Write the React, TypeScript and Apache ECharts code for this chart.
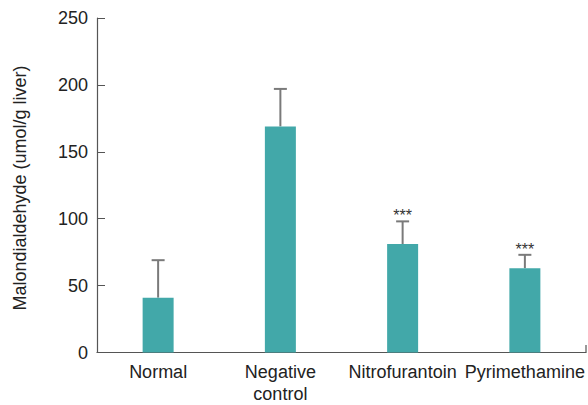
import React, { useEffect, useRef } from "react";
import * as echarts from "echarts";

const categories = ["Normal", "Negative\ncontrol", "Nitrofurantoin", "Pyrimethamine"];
const means = [41, 169, 81, 63];
const errorTops = [69, 197, 98, 73];
const significance = ["", "", "***", "***"];
const yTicks = { min: 0, max: 250, interval: 50 };

const FONT = "'Liberation Sans', Arial, Helvetica, sans-serif";
const AXIS_COLOR = "#555";

export default function App() {
  const ref = useRef<HTMLDivElement>(null);
  useEffect(() => {
    if (!ref.current) return;
    const chart = echarts.init(ref.current, undefined, { renderer: "svg" });
    const errData = categories.map((_, i) => [i, means[i], errorTops[i]]);
    chart.setOption({
      animation: false,
      grid: {
        left: 97,
        right: 2,
        top: 18,
        bottom: 52.5,
        containLabel: false,
        outerBoundsMode: "none",
      },
      xAxis: {
        type: "category",
        data: categories,
        axisLine: { show: true, lineStyle: { color: AXIS_COLOR, width: 1.2 } },
        axisTick: { show: false },
        axisLabel: {
          color: "#222",
          fontSize: 18,
          fontFamily: FONT,
          margin: 8,
          lineHeight: 22,
          interval: 0,
          hideOverlap: false,
        },
      },
      yAxis: {
        type: "value",
        min: yTicks.min,
        max: yTicks.max,
        interval: yTicks.interval,
        splitLine: { show: false },
        axisLine: { show: true, lineStyle: { color: AXIS_COLOR, width: 1.2 } },
        axisTick: { show: true, inside: true, length: 8, lineStyle: { color: AXIS_COLOR, width: 1 } },
        axisLabel: { color: "#222", fontSize: 18, fontFamily: FONT, margin: 9 },
      },
      graphic: [
        {
          type: "text",
          x: 20,
          y: 188,
          rotation: Math.PI / 2,
          style: {
            text: "Malondialdehyde (umol/g liver)",
            fontSize: 18,
            fontFamily: FONT,
            fill: "#222",
            textAlign: "center",
            textVerticalAlign: "middle",
          },
        },
        {
          type: "line",
          shape: { x1: 586, y1: 352.5, x2: 586, y2: 345 },
          style: { stroke: AXIS_COLOR, lineWidth: 1.2 },
        },
      ],
      series: [
        {
          type: "bar",
          data: means,
          barWidth: 31,
          itemStyle: { color: "#42A8A9" },
          z: 3,
        },
        {
          type: "custom",
          data: errData,
          z: 2,
          renderItem: (params: any, api: any) => {
            const i = api.value(0);
            const top = api.coord([i, api.value(2)]);
            const base = api.coord([i, api.value(1)]);
            const sig = significance[params.dataIndex];
            const half = 6.5;
            const children: any[] = [
              {
                type: "line",
                shape: { x1: top[0], y1: base[1], x2: top[0], y2: top[1] },
                style: { stroke: "#7a7a7a", lineWidth: 2 },
              },
              {
                type: "line",
                shape: { x1: top[0] - half, y1: top[1], x2: top[0] + half, y2: top[1] },
                style: { stroke: "#7a7a7a", lineWidth: 2 },
              },
            ];
            if (sig) {
              children.push({
                type: "text",
                x: top[0],
                y: top[1] - 5.5,
                style: {
                  text: sig,
                  fontSize: 16,
                  fontFamily: FONT,
                  fill: "#333",
                  textAlign: "center",
                  textVerticalAlign: "middle",
                },
              });
            }
            return { type: "group", children };
          },
        },
      ],
    });
    return () => chart.dispose();
  }, []);
  return <div ref={ref} style={{ width: 588, height: 405, position: "absolute", left: 0, top: 0 }} />;
}
